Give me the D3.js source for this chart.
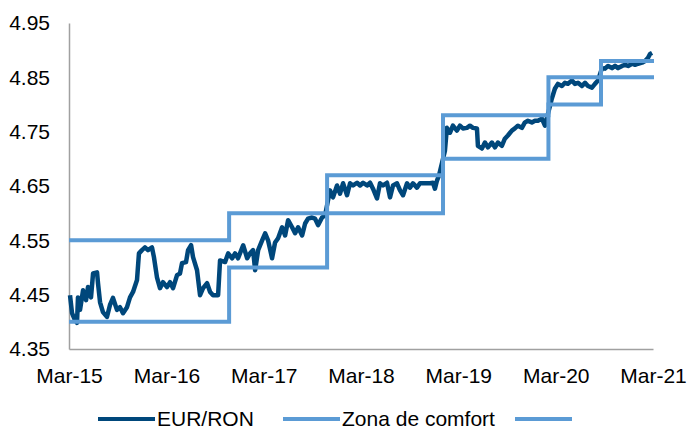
<!DOCTYPE html>
<html lang="ro">
<head>
    <meta charset="UTF-8">
    <title>EUR/RON</title>
    <script src="https://cdn.jsdelivr.net/npm/d3@7"></script>
    <style>
        body { margin: 0; background: #fff; }
        text { font-family: "Liberation Sans", Arial, sans-serif; }
    </style>
</head>
<body>
<script>
    // EUR/RON, timpul in ani zecimali
    const eurron = [
        [2015.172, 4.449], [2015.193, 4.416], [2015.213, 4.407], [2015.244, 4.398], [2015.254, 4.445],
        [2015.275, 4.422], [2015.306, 4.458], [2015.337, 4.440], [2015.357, 4.464], [2015.388, 4.445],
        [2015.409, 4.489], [2015.450, 4.491], [2015.460, 4.471], [2015.481, 4.436], [2015.511, 4.418],
        [2015.552, 4.409], [2015.583, 4.431], [2015.614, 4.444], [2015.655, 4.422], [2015.686, 4.427],
        [2015.717, 4.416], [2015.758, 4.427], [2015.789, 4.445], [2015.820, 4.455], [2015.861, 4.477],
        [2015.881, 4.526], [2015.912, 4.532], [2015.943, 4.537], [2015.974, 4.532], [2016.015, 4.537],
        [2016.035, 4.519], [2016.066, 4.482], [2016.097, 4.462], [2016.128, 4.473], [2016.169, 4.464],
        [2016.200, 4.473], [2016.231, 4.462], [2016.272, 4.486], [2016.302, 4.489], [2016.323, 4.508],
        [2016.364, 4.510], [2016.385, 4.532], [2016.416, 4.541], [2016.436, 4.519], [2016.477, 4.495],
        [2016.508, 4.449], [2016.539, 4.462], [2016.580, 4.471], [2016.611, 4.455], [2016.641, 4.449],
        [2016.693, 4.449], [2016.713, 4.513], [2016.765, 4.510], [2016.796, 4.526], [2016.837, 4.517],
        [2016.867, 4.526], [2016.898, 4.517], [2016.950, 4.541], [2016.991, 4.517], [2017.021, 4.526],
        [2017.052, 4.532], [2017.073, 4.495], [2017.104, 4.532], [2017.145, 4.550], [2017.176, 4.563],
        [2017.206, 4.550], [2017.247, 4.517], [2017.278, 4.546], [2017.309, 4.554], [2017.350, 4.574],
        [2017.381, 4.559], [2017.412, 4.587], [2017.453, 4.574], [2017.484, 4.563], [2017.515, 4.574],
        [2017.556, 4.559], [2017.587, 4.581], [2017.617, 4.590], [2017.658, 4.592], [2017.689, 4.590],
        [2017.720, 4.578], [2017.761, 4.592], [2017.792, 4.596], [2017.843, 4.642], [2017.874, 4.629],
        [2017.915, 4.651], [2017.946, 4.636], [2017.977, 4.655], [2018.018, 4.633], [2018.049, 4.655],
        [2018.080, 4.651], [2018.121, 4.656], [2018.152, 4.651], [2018.183, 4.656], [2018.224, 4.651],
        [2018.255, 4.656], [2018.285, 4.645], [2018.326, 4.627], [2018.357, 4.655], [2018.388, 4.651],
        [2018.429, 4.656], [2018.460, 4.629], [2018.491, 4.651], [2018.532, 4.655], [2018.563, 4.642],
        [2018.594, 4.633], [2018.635, 4.655], [2018.665, 4.647], [2018.696, 4.655], [2018.737, 4.647],
        [2018.768, 4.655], [2018.799, 4.655], [2018.840, 4.655], [2018.871, 4.655], [2018.902, 4.656],
        [2018.922, 4.645], [2018.943, 4.660], [2018.963, 4.669], [2019.025, 4.715], [2019.045, 4.757],
        [2019.076, 4.748], [2019.107, 4.761], [2019.148, 4.752], [2019.179, 4.761], [2019.210, 4.756],
        [2019.251, 4.757], [2019.282, 4.761], [2019.313, 4.757], [2019.354, 4.756], [2019.364, 4.724],
        [2019.405, 4.719], [2019.436, 4.730], [2019.467, 4.721], [2019.508, 4.730], [2019.539, 4.721],
        [2019.569, 4.730], [2019.610, 4.724], [2019.641, 4.737], [2019.672, 4.743], [2019.713, 4.752],
        [2019.744, 4.756], [2019.775, 4.761], [2019.816, 4.757], [2019.847, 4.767], [2019.878, 4.770],
        [2019.919, 4.767], [2019.950, 4.770], [2019.981, 4.770], [2020.022, 4.774], [2020.053, 4.761],
        [2020.124, 4.811], [2020.155, 4.829], [2020.186, 4.838], [2020.227, 4.834], [2020.258, 4.840],
        [2020.289, 4.838], [2020.330, 4.844], [2020.361, 4.838], [2020.392, 4.840], [2020.433, 4.834],
        [2020.464, 4.840], [2020.494, 4.834], [2020.535, 4.831], [2020.566, 4.838], [2020.597, 4.844],
        [2020.618, 4.856], [2020.638, 4.867], [2020.669, 4.866], [2020.700, 4.871], [2020.741, 4.867],
        [2020.772, 4.871], [2020.803, 4.867], [2020.844, 4.871], [2020.875, 4.873], [2020.906, 4.871],
        [2020.947, 4.875], [2020.977, 4.873], [2021.008, 4.875], [2021.049, 4.877], [2021.080, 4.880],
        [2021.111, 4.886], [2021.131, 4.893], [2021.152, 4.895]
    ]
    // zona de comfort: limite (trepte)
    const zoneUpper = [[2015.162, 4.55], [2016.806, 4.60], [2017.813, 4.67], [2019.005, 4.78], [2020.089, 4.85], [2020.628, 4.88], [2021.172, 4.88]]
    const zoneLower = [[2015.162, 4.40], [2016.806, 4.50], [2017.813, 4.60], [2019.005, 4.70], [2020.089, 4.80], [2020.628, 4.85], [2021.172, 4.85]]
    const yTicks = [4.35, 4.45, 4.55, 4.65, 4.75, 4.85, 4.95]
    const xTickYears = [2015, 2016, 2017, 2018, 2019, 2020, 2021]
    const legendLabels = ['EUR/RON', 'Zona de comfort', '']

    const [width, height] = [687, 430]
    const dark = '#00477b', light = '#5b9bd5', axisColor = '#a0a0a0'

    const toDate = t => {
        const yr = Math.floor(t)
        const a = new Date(yr, 0, 1), b = new Date(yr + 1, 0, 1)
        return new Date(+a + (t - yr) * (b - a))
    }

    const x = d3.scaleTime().domain([new Date(2015, 2, 1), new Date(2021, 2, 1)]).range([69, 653])
    const y = d3.scaleLinear().domain([4.35, 4.95]).range([349, 23])

    const svg = d3.select('body').append('svg')
        .attr('width', width)
        .attr('height', height)

    // axe
    const yAxis = svg.append('g').attr('transform', 'translate(69,0)')
        .call(d3.axisLeft(y).tickValues(yTicks).tickSize(0).tickPadding(19).tickFormat(d3.format('.2f')))
    const xAxis = svg.append('g').attr('transform', 'translate(0,349)')
        .call(d3.axisBottom(x).tickValues(xTickYears.map(v => new Date(v, 2, 1)))
            .tickSize(0).tickPadding(18).tickFormat(d3.timeFormat('%b-%y')))
    ;[yAxis, xAxis].forEach(g => {
        g.select('.domain').attr('stroke', axisColor).attr('stroke-width', 1.5)
        g.selectAll('text').attr('font-size', 21).attr('fill', '#000')
            .style('font-family', '"Liberation Sans", Arial, sans-serif')
    })
    xAxis.selectAll('text').attr('dy', '0.78em')

    const line = d3.line()
        .x(d => x(toDate(d[0])))
        .y(d => y(d[1]))
    const step = d3.line()
        .x(d => x(toDate(d[0])))
        .y(d => y(d[1]))
        .curve(d3.curveStepAfter)

    svg.append('path').datum(eurron)
        .attr('d', line)
        .attr('fill', 'none')
        .attr('stroke', dark)
        .attr('stroke-width', 4.5)
        .attr('stroke-linejoin', 'round')

    svg.selectAll('path.zone').data([zoneUpper, zoneLower])
        .enter().append('path').attr('class', 'zone')
        .attr('d', step)
        .attr('fill', 'none')
        .attr('stroke', light)
        .attr('stroke-width', 4)

    // legenda
    const legendX = [98, 283, 515]
    const legendColors = [dark, light, light]
    const lg = svg.selectAll('g.legend').data(legendLabels)
        .enter().append('g').attr('class', 'legend')
        .attr('transform', (d, i) => `translate(${legendX[i]},419)`)
    lg.append('line')
        .attr('x1', 0).attr('x2', 57)
        .attr('stroke', (d, i) => legendColors[i])
        .attr('stroke-width', 4)
    lg.append('text')
        .attr('x', 59).attr('y', 7)
        .attr('font-size', 21)
        .text(d => d)
</script>
</body>
</html>
